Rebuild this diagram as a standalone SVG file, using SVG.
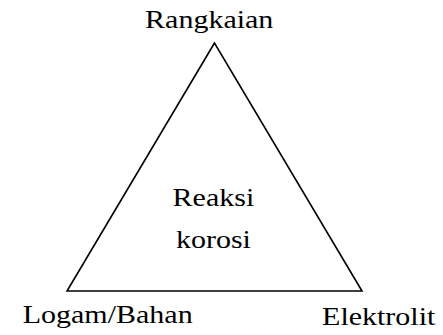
<svg xmlns="http://www.w3.org/2000/svg" width="443" height="335" viewBox="0 0 443 335">
<rect width="443" height="335" fill="#fff"/>
<g id="connectors">
<path d="M214.5,43 L67,291 L362,291 Z" fill="none" stroke="#000" stroke-width="1.6"/>
</g>
<g font-family="'Liberation Serif', 'Times New Roman', Times, serif" font-size="25" fill="#000" text-anchor="middle">
<g id="node-rangkaian"><text transform="translate(209.2,27.5) scale(1.2,1)">Rangkaian</text></g>
<g id="node-reaksi"><text transform="translate(213.4,206) scale(1.2,1)">Reaksi</text><text transform="translate(213.4,248.3) scale(1.2,1)">korosi</text></g>
<g id="node-logam"><text transform="translate(107.7,323.3) scale(1.2,1)">Logam/Bahan</text></g>
<g id="node-elektrolit"><text transform="translate(378.7,325) scale(1.2,1)">Elektrolit</text></g>
</g>
</svg>
